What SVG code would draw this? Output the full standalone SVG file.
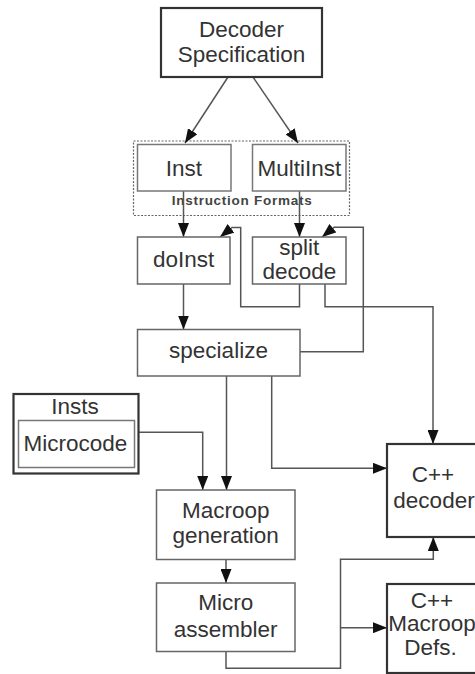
<svg xmlns="http://www.w3.org/2000/svg" width="475" height="674" viewBox="0 0 475 674">
<style>
  .box { fill: #fff; stroke: #666; stroke-width: 1.5; }
  .thick { fill: #fff; stroke: #333; stroke-width: 2.2; }
  .inner { fill: #fff; stroke: #777; stroke-width: 1.5; }
  .dash { fill: none; stroke: #666; stroke-width: 1.2; stroke-dasharray: 2 1.5; }
  .lbl { font-family: "Liberation Sans", Arial, sans-serif; font-size: 22.5px; fill: #333; text-anchor: middle; }
  .small { font-family: "Liberation Sans", Arial, sans-serif; font-size: 13.5px; font-weight: bold; fill: #444; text-anchor: middle; }
  .conn path { fill: none; stroke: #555; stroke-width: 1.5; marker-end: url(#arr); }
</style>
<defs>
  <marker id="arr" markerUnits="userSpaceOnUse" markerWidth="14" markerHeight="11" refX="14" refY="5.5" orient="auto">
    <path d="M0,0 L14,5.5 L0,11 z" fill="#111"/>
  </marker>
</defs>
<rect width="475" height="674" fill="#fff"/>

<g id="formats">
  <rect class="dash" x="133.5" y="141" width="216" height="74.5"/>
  <text class="small" x="241.7" y="205" textLength="140" lengthAdjust="spacing">Instruction Formats</text>
</g>

<g class="conn" id="connectors">
  <path d="M228,77 L185,143"/>
  <path d="M253,77 L298,143"/>
  <path d="M183.5,191 V237"/>
  <path d="M299.5,191 V237"/>
  <path d="M299.5,284 V306.7 H240.7 V227.5 H232 L220,237"/>
  <path d="M325,284 V306.7 H433 V444"/>
  <path d="M300,351.7 H363.3 V227.3 H334 L322,237"/>
  <path d="M183.5,284 V329.5"/>
  <path d="M226.5,376 V490"/>
  <path d="M271.7,376 V468.3 H387"/>
  <path d="M134.5,432.3 H202.7 V490"/>
  <path d="M226,559.5 V583"/>
  <path d="M226,651.5 V668.3 H340.5 V559.3 H433.3 V537"/>
  <path d="M340.5,627.7 H387"/>
</g>

<g id="spec">
  <rect class="thick" x="161" y="8" width="161" height="69"/>
  <text class="lbl" x="241.5" y="37">Decoder</text>
  <text class="lbl" x="241.5" y="62">Specification</text>
</g>
<g id="inst">
  <rect class="inner" x="137.5" y="144.5" width="93.5" height="46.5"/>
  <text class="lbl" x="184" y="175.5">Inst</text>
</g>
<g id="multiinst">
  <rect class="inner" x="252.5" y="144.5" width="93.5" height="46.5"/>
  <text class="lbl" x="299.3" y="175.5">MultiInst</text>
</g>
<g id="doinst">
  <rect class="box" x="137.5" y="237" width="92.5" height="47"/>
  <text class="lbl" x="183.7" y="267">doInst</text>
</g>
<g id="split">
  <rect class="box" x="252.5" y="237" width="93.5" height="47"/>
  <text class="lbl" x="299.3" y="255">split</text>
  <text class="lbl" x="299.3" y="278.5">decode</text>
</g>
<g id="specialize">
  <rect class="box" x="137.5" y="329.5" width="162.5" height="46.5"/>
  <text class="lbl" x="218.5" y="358.3">specialize</text>
</g>
<g id="insts">
  <rect class="thick" x="13.5" y="394" width="125" height="79.5"/>
  <text class="lbl" x="75" y="414">Insts</text>
</g>
<g id="microcode">
  <rect class="inner" x="18.5" y="420.5" width="116" height="47"/>
  <text class="lbl" x="75.5" y="451">Microcode</text>
</g>
<g id="macroop">
  <rect class="box" x="156.5" y="490" width="138.5" height="69.5"/>
  <text class="lbl" x="225.7" y="518.3">Macroop</text>
  <text class="lbl" x="225.7" y="543.3">generation</text>
</g>
<g id="micro">
  <rect class="box" x="156.5" y="583" width="138.5" height="68.5"/>
  <text class="lbl" x="225.7" y="610">Micro</text>
  <text class="lbl" x="225.7" y="636.7">assembler</text>
</g>
<g id="cppdecoder">
  <rect class="thick" x="387" y="444" width="100" height="93"/>
  <text class="lbl" x="433" y="481.7">C++</text>
  <text class="lbl" x="434" y="508.3">decoder</text>
</g>
<g id="cppmacroop">
  <rect class="thick" x="387" y="584" width="100" height="89"/>
  <text class="lbl" x="432" y="607.5">C++</text>
  <text class="lbl" x="432" y="631">Macroop</text>
  <text class="lbl" x="430.5" y="654.5">Defs.</text>
</g>
</svg>
